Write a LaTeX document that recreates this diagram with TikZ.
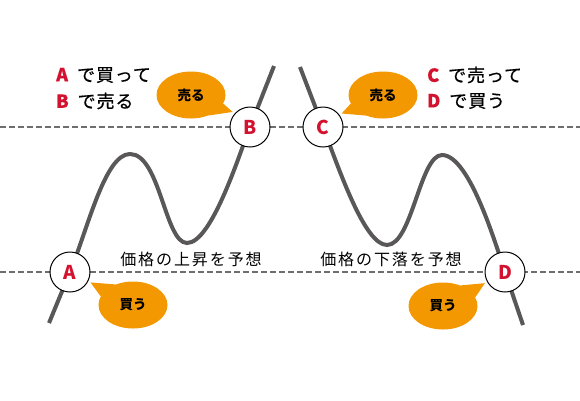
\documentclass[tikz,border=0pt]{standalone}
\usepackage{fontspec}
\setmainfont{Noto Sans CJK JP}
\newfontfamily\jpwide[LetterSpace=12]{Noto Sans CJK JP}
\newfontfamily\jprule[LetterSpace=5,FakeBold=0.6]{Noto Sans CJK JP}
\usetikzlibrary{shapes.geometric}
\definecolor{pricegray}{HTML}{595757}
\definecolor{levelgray}{HTML}{6E6E6E}
\definecolor{markred}{HTML}{D2122E}
\definecolor{bubbleorange}{HTML}{F39800}

\begin{document}
\begin{tikzpicture}[x=1pt,y=-1pt,
  level/.style={levelgray, line width=1.4pt, dash pattern=on 6pt off 3pt},
  price/.style={pricegray, line width=4pt},
  point/.style={circle, draw, fill=white, line width=1pt, minimum size=40pt,
    inner sep=0pt, outer sep=3pt, text=markred, font=\fontsize{19}{19}\selectfont\bfseries},
  bubble/.style={ellipse, fill=bubbleorange, minimum width=69pt, minimum height=47pt,
    inner sep=0pt, font=\fontsize{13.5}{13.5}\selectfont\bfseries},
  note/.style={anchor=west, inner sep=0pt, font=\jprule\fontsize{18}{18}\selectfont},
  trend/.style={inner sep=0pt, font=\jpwide\fontsize{16}{16}\selectfont},
]
\useasboundingbox (0,0) rectangle (580,400);

% price levels
\draw[level] (0,127) -- (580,127);
\draw[level] (0,272) -- (580,272);

% rising price (left)
\draw[price] (49,323) -- (70,272) .. controls (88,228) and (105,154) .. (130,154)
  .. controls (160,154) and (165,243) .. (187,243)
  .. controls (212,243) and (240,152) .. (250,127) -- (274,66);
% falling price (right)
\draw[price] (300,67) -- (323,127) .. controls (340,172) and (365,245) .. (387,245)
  .. controls (412,245) and (420,155) .. (442,155)
  .. controls (470,155) and (497,249) .. (505,272) -- (523,325);

% trade points
\node[point] (A) at (70,272) {A};
\node[point] (B) at (250,127) {B};
\node[point] (C) at (323,127) {C};
\node[point] (D) at (505,272) {D};

% bubbles
\node[bubble] (sellB) at (191,95) {売る};
\node[bubble] (sellC) at (383,95) {売る};
\node[bubble] (buyA) at (133,305) {買う};
\node[bubble] (buyD) at (443,306) {買う};
\fill[bubbleorange] (sellB.-15) -- (B.139) -- (sellB.-50) -- cycle;
\fill[bubbleorange] (sellC.-165) -- (C.36) -- (sellC.-130) -- cycle;
\fill[bubbleorange] (buyA.165) -- (A.-27) -- (buyA.130) -- cycle;
\fill[bubbleorange] (buyD.15) -- (D.-151) -- (buyD.50) -- cycle;

% rules
\node[note] (ruleA) at (56,75) {{\color{markred}\bfseries A}\hspace{9pt}で買って};
\node[note] (ruleB) at (56,101) {{\color{markred}\bfseries B}\hspace{9pt}で売る};
\node[note] (ruleC) at (427,75) {{\color{markred}\bfseries C}\hspace{9pt}で売って};
\node[note] (ruleD) at (427,101) {{\color{markred}\bfseries D}\hspace{9pt}で買う};

% expectations
\node[trend] (upText) at (191,259) {価格の上昇を予想};
\node[trend] (downText) at (391,259) {価格の下落を予想};
\end{tikzpicture}
\end{document}
